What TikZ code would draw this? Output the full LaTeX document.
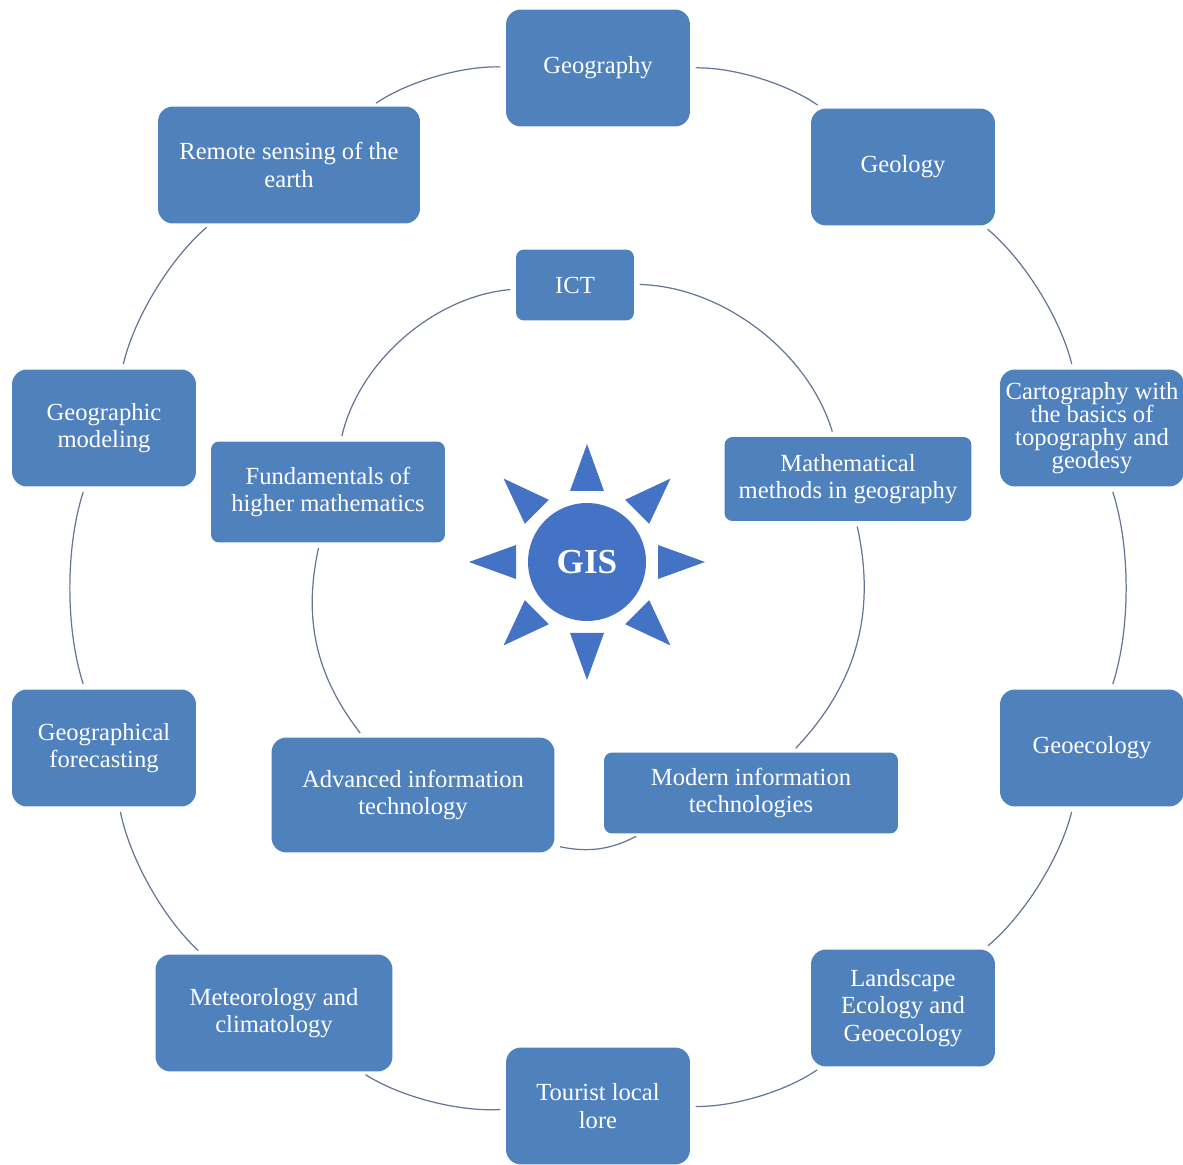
\documentclass[tikz,border=0pt]{standalone}
\usepackage{fontspec}
\setmainfont{Liberation Serif}
\usepackage{tikz}
\usetikzlibrary{calc,positioning,shapes}
\definecolor{boxblue}{RGB}{79,129,189}
\definecolor{sunblue}{RGB}{68,114,196}
\definecolor{linkgray}{RGB}{100,118,148}

\begin{document}
\begin{tikzpicture}[x=0.02cm,y=0.02cm]
    \tikzstyle{obox} = [rectangle, rounded corners = 0.3cm, fill=boxblue, text=white, align=center,
                        minimum width=3.68cm, minimum height=2.34cm, inner sep=2pt,
                        font=\fontsize{14}{15.5}\selectfont]
    \tikzstyle{ibox} = [obox, rounded corners = 0.16cm, minimum width=1cm, minimum height=1cm]
    \tikzstyle{link} = [draw=linkgray, line width=0.7pt, shorten <=3pt, shorten >=3pt]

    \useasboundingbox (0,0) rectangle (1183,1164);

    % outer ring
    \node[obox] (geogr) at (598,1096) {Geography};
    \node[obox] (geol) at (903,997) {Geology};
    \node[obox, font=\fontsize{14}{13}\selectfont] (carto) at (1092,736) {Cartography with\\the basics of\\topography and\\geodesy};
    \node[obox] (geoeco) at (1092,416) {Geoecology};
    \node[obox] (landsc) at (903,156) {Landscape\\Ecology and\\Geoecology};
    \node[obox] (tourist) at (598,58) {Tourist local\\lore};
    \node[obox, minimum width=4.74cm] (meteo) at (274,151) {Meteorology and\\climatology};
    \node[obox] (forecast) at (104,416) {Geographical\\forecasting};
    \node[obox] (modeling) at (104,736) {Geographic\\modeling};
    \node[obox, minimum width=5.24cm] (remote) at (289,999) {Remote sensing of the\\earth};

    % inner ring
    \node[ibox, minimum width=2.36cm, minimum height=1.42cm] (ict) at (575,879) {ICT};
    \node[ibox, minimum width=4.94cm, minimum height=1.68cm] (math) at (848,685) {Mathematical\\methods in geography};
    \node[ibox, minimum width=5.88cm, minimum height=1.62cm] (modern) at (751,371) {Modern information\\technologies};
    \node[obox, minimum width=5.66cm, minimum height=2.30cm] (advanced) at (413,369) {Advanced information\\technology};
    \node[ibox, minimum width=4.68cm, minimum height=2.02cm] (fund) at (328,672) {Fundamentals of\\higher mathematics};

    % centre
    \node[circle, fill=sunblue, text=white, minimum size=2.36cm, font=\fontsize{20}{20}\selectfont\bfseries] (gis) at (587,602) {GIS};
    \foreach \a in {0,45,...,315}
      \fill[sunblue] ($(gis)+(\a:118)$) -- ($(gis)+(\a:71)+(\a+90:17)$) -- ($(gis)+(\a:71)+(\a-90:17)$) -- cycle;

    \draw[link] (geogr) to[bend left=18, looseness=0.8] (geol);
    \draw[link] (geol) to[bend left=18, looseness=0.8] (carto);
    \draw[link] (carto) to[bend left=18, looseness=0.8] (geoeco);
    \draw[link] (geoeco) to[bend left=18, looseness=0.8] (landsc);
    \draw[link] (landsc) to[bend left=18, looseness=0.8] (tourist);
    \draw[link] (tourist) to[bend left=18, looseness=0.8] (meteo);
    \draw[link] (meteo) to[bend left=18, looseness=0.8] (forecast);
    \draw[link] (forecast) to[bend left=18, looseness=0.8] (modeling);
    \draw[link] (modeling) to[bend left=18, looseness=0.8] (remote);
    \draw[link] (remote) to[bend left=18, looseness=0.8] (geogr);

    \draw[link] (ict) to[bend left=36, looseness=0.9] (math);
    \draw[link] (math) to[bend left=28] (modern);
    \draw[link] (modern) to[bend left=20] (advanced);
    \draw[link] (advanced) to[bend left=25] (fund);
    \draw[link] (fund) to[bend left=36, looseness=0.9] (ict);
\end{tikzpicture}
\end{document}
